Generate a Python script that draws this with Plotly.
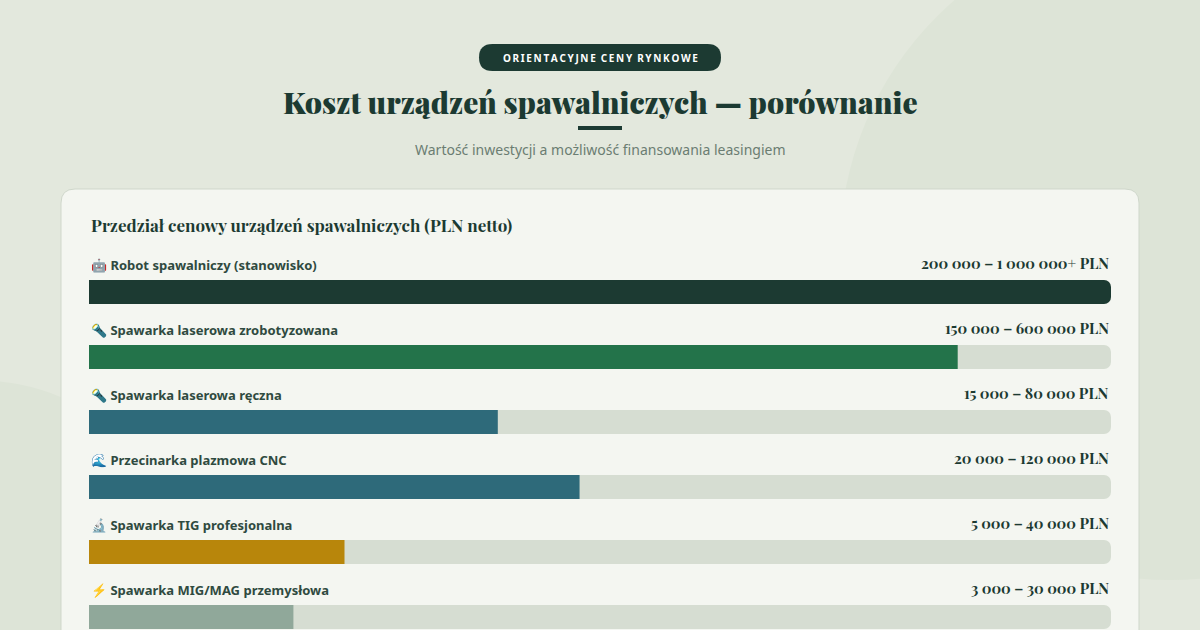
import plotly.graph_objects as go

labels = ["🤖 Robot spawalniczy (stanowisko)", "🔦 Spawarka laserowa zrobotyzowana",
          "🔦 Spawarka laserowa ręczna", "🌊 Przecinarka plazmowa CNC",
          "🔬 Spawarka TIG profesjonalna", "⚡ Spawarka MIG/MAG przemysłowa"]
ranges = ["200 000 – 1 000 000+ PLN", "150 000 – 600 000 PLN", "15 000 – 80 000 PLN",
          "20 000 – 120 000 PLN", "5 000 – 40 000 PLN", "3 000 – 30 000 PLN"]
values = [100, 85, 40, 48, 25, 20]
colors = ["#1c3a32", "#23734a", "#2e6a7a", "#2e6a7a", "#b8860b", "#90a89a"]

W, H = 1200, 630
serif = "Playfair Display, DejaVu Serif, serif"
sans = "Source Sans Pro, Noto Sans, sans-serif"
pos = list(range(len(values)))

fig = go.Figure()
fig.add_bar(x=[100]*len(values), y=pos, orientation="h", width=0.37,
            marker=dict(color="#d6ddd2", cornerradius=7, line_width=0), hoverinfo="skip")
fig.add_bar(x=values, y=pos, orientation="h", width=0.37,
            marker=dict(color=colors, cornerradius=7, line_width=0), hoverinfo="skip")

def px(x): return x / W
def py(y): return 1 - y / H

def paper_rrect(x0, y0, x1, y1, r):
    rx, ry = r / W, r / H
    X0, X1, Y0, Y1 = px(x0), px(x1), py(y1), py(y0)
    return (f"M{X0+rx},{Y0} L{X1-rx},{Y0} Q{X1},{Y0} {X1},{Y0+ry} L{X1},{Y1-ry} Q{X1},{Y1} {X1-rx},{Y1} "
            f"L{X0+rx},{Y1} Q{X0},{Y1} {X0},{Y1-ry} L{X0},{Y0+ry} Q{X0},{Y0} {X0+rx},{Y0} Z")

shapes = [
    dict(type="circle", xref="paper", yref="paper", x0=px(840), x1=px(1500), y0=py(-80), y1=py(580),
         fillcolor="#dde4d7", line_width=0, layer="below"),
    dict(type="circle", xref="paper", yref="paper", x0=px(-250), x1=px(200), y0=py(380), y1=py(830),
         fillcolor="#dde4d7", line_width=0, layer="below"),
    dict(type="path", xref="paper", yref="paper", path=paper_rrect(61, 189, 1139, 680, 14),
         fillcolor="#f4f6f1", line=dict(color="#cfd7cb", width=1), layer="below"),
    dict(type="path", xref="paper", yref="paper", path=paper_rrect(479, 44, 721, 71, 13.5),
         fillcolor="#1c3a32", line_width=0),
    dict(type="line", xref="paper", yref="paper", x0=px(578), x1=px(622), y0=py(128), y1=py(128),
         line=dict(color="#1c3a32", width=4)),
]

pill = "\u2009".join("ORIENTACYJNE CENY RYNKOWE").replace("\u2009 \u2009", "\u2002")
ann = [
    dict(text=f"<b>{pill}</b>", x=0.5, y=py(57.5), xref="paper", yref="paper",
         showarrow=False, font=dict(family=sans, size=10, color="white"), yanchor="middle"),
    dict(text="Koszt urządzeń spawalniczych — porównanie", x=0.5, y=py(102), xref="paper",
         yref="paper", showarrow=False, font=dict(family=serif, size=30, color="#1c3a32", weight=900),
         yanchor="middle"),
    dict(text="Wartość inwestycji a możliwość finansowania leasingiem", x=0.5, y=py(149), xref="paper",
         yref="paper", showarrow=False, font=dict(family=sans, size=14, color="#6b7d72"), yanchor="middle"),
    dict(text="<b>Przedział cenowy urządzeń spawalniczych (PLN netto)</b>", x=px(89), y=py(225),
         xref="paper", yref="paper", xanchor="left", yanchor="middle", showarrow=False,
         font=dict(family=serif, size=17, color="#1c3a32")),
]
for i, (l, r) in enumerate(zip(labels, ranges)):
    ann.append(dict(text=f"<b>{l}</b>", x=0, y=i - 0.42, xref="x", yref="y", xanchor="left",
                    yanchor="middle", showarrow=False, font=dict(family=sans, size=13, color="#2f4a40")))
    ann.append(dict(text=f"<b>{r}</b>", x=100, y=i - 0.45, xref="x", yref="y", xanchor="right",
                    yanchor="middle", showarrow=False, font=dict(family=serif, size=15, color="#1c3a32")))

fig.update_layout(
    width=W, height=H, margin=dict(l=0, r=0, t=0, b=0), barmode="overlay", showlegend=False,
    paper_bgcolor="#e3e8dd", plot_bgcolor="rgba(0,0,0,0)", shapes=shapes, annotations=ann,
    xaxis=dict(domain=[px(89), px(1111)], range=[0, 100], visible=False, fixedrange=True),
    yaxis=dict(domain=[0, 1], range=[(H - 292) / 65, -292 / 65], visible=False, fixedrange=True),
)
fig.write_html("out.html", config={"displayModeBar": False},
               post_script="document.body.style.margin='0';document.body.style.overflow='hidden';")
